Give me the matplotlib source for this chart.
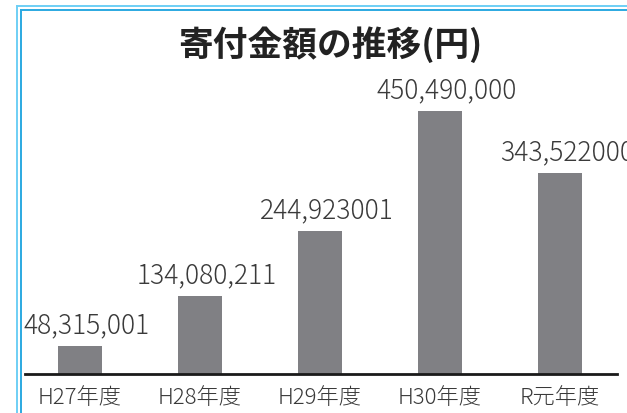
import matplotlib
matplotlib.use("Agg")
import matplotlib.pyplot as plt
from matplotlib.lines import Line2D

plt.rcParams['font.family'] = ['Noto Sans CJK JP', 'DejaVu Sans']

# data
years = ['H27年度', 'H28年度', 'H29年度', 'H30年度', 'R元年度']
amounts = [48315001, 134080211, 244923001, 450490000, 343522000]
amount_labels = ['48,315,001', '134,080,211', '244,923001', '450,490,000', '343,522000']

W, H = 627, 413
fig = plt.figure(figsize=(W / 100, H / 100), dpi=100)

# axes placed in pixel terms: baseline at y=374, axis line x=25..617
ax = fig.add_axes([25 / W, (H - 374) / H, 592 / W, 294 / H])
ax.set_xlim(-0.458, 4.475)
ax.set_ylim(0, 294 / 0.584 * 1e6)

x = range(len(years))
ax.bar(x, amounts, width=0.367, color='#808084')

for i, (v, lab) in enumerate(zip(amounts, amount_labels)):
    ax.annotate(lab, (i, v), xytext=(5, 15), textcoords='offset points',
                ha='center', va='center', fontsize=19, fontweight='light',
                color='#3a3a3a', annotation_clip=False)

ax.set_xticks(list(x))
ax.set_xticklabels(years, fontsize=16, fontweight='light', color='#3a3a3a')
ax.tick_params(axis='x', length=0, pad=9)
ax.set_yticks([])
for side in ['top', 'right', 'left']:
    ax.spines[side].set_visible(False)
ax.spines['bottom'].set_linewidth(2)
ax.spines['bottom'].set_color('#1a1a1a')

fig.text(330 / W, 1 - 45 / H, '寄付金額の推移(円)', ha='center', va='center',
         fontsize=25, fontweight='bold', color='#222222')

# light blue double frame on the left and top
def px_line(x0, y0, x1, y1, color, lw):
    fig.add_artist(Line2D([x0 / W, x1 / W], [1 - y0 / H, 1 - y1 / H],
                          transform=fig.transFigure, color=color, lw=lw))

px_line(17, 5.5, 17, H, '#6fcff5', 1.4)
px_line(17, 5.5, W, 5.5, '#6fcff5', 1.4)
px_line(21, 9.5, 21, H, '#2ba9e1', 1.4)
px_line(21, 9.5, W, 9.5, '#2ba9e1', 1.4)

fig.savefig('out.png', dpi=100)
